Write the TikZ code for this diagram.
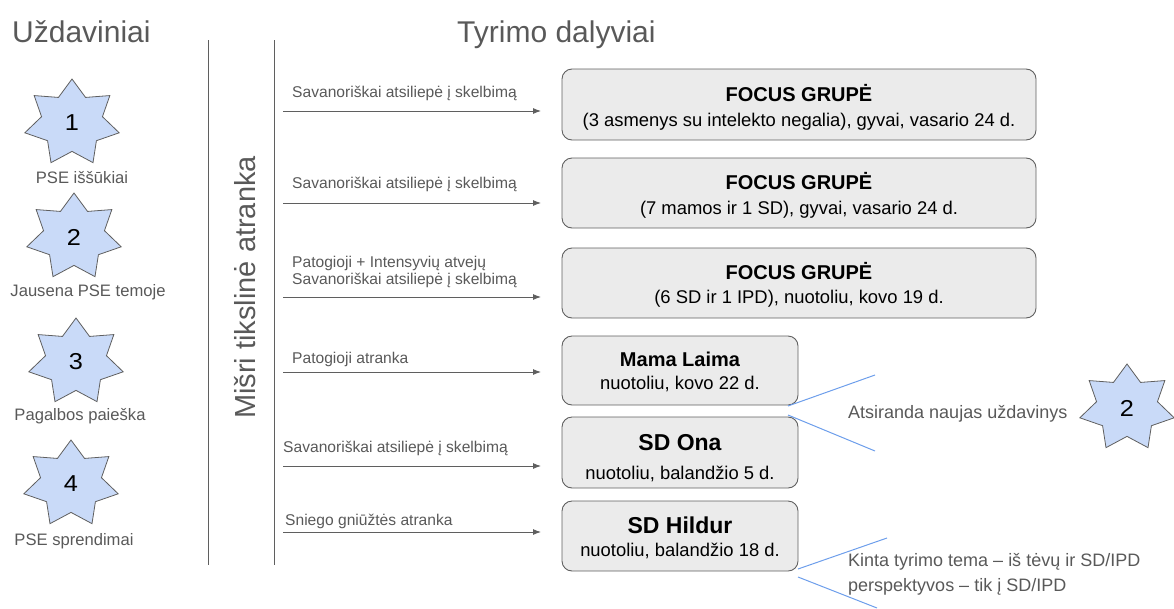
\documentclass[tikz,border=0pt]{standalone}
\usepackage{fontspec}
\setmainfont{Liberation Sans}
\usetikzlibrary{shapes.geometric,arrows.meta}
\definecolor{txtgray}{HTML}{595959}
\definecolor{linegray}{HTML}{5F5F5F}
\definecolor{starblue}{HTML}{C9DAF8}
\definecolor{boxgray}{HTML}{EBEBEB}
\definecolor{callblue}{HTML}{6D9EEB}
\tikzset{
  task/.style={star, star points=7, star point ratio=1.55, minimum size=88pt,
    xscale=1.1, inner sep=0pt, draw=linegray, fill=starblue, line width=0.8pt,
    font=\fontsize{23}{28}\selectfont},
  tasklabel/.style={anchor=base, inner sep=0pt, text=txtgray,
    font=\fontsize{16.6}{20}\selectfont},
  group/.style={draw=linegray, fill=boxgray, rounded corners=10pt,
    line width=0.9pt, align=center, inner sep=0pt, text depth=0pt},
  sel/.style={-{Latex[length=8pt,width=6pt]}, draw=linegray, line width=0.9pt},
  sellabel/.style={anchor=base west, inner sep=0pt, text=txtgray, align=left,
    font=\fontsize{15.6}{16.5}\selectfont},
  note/.style={draw=callblue, line width=1pt},
  notelabel/.style={anchor=base west, inner sep=0pt, text=txtgray, align=left,
    font=\fontsize{18}{25}\selectfont},
  heading/.style={anchor=base west, inner sep=0pt, text=txtgray,
    font=\fontsize{30}{36}\selectfont}
}
\begin{document}
\begin{tikzpicture}[x=1pt, y=-1pt]
  \useasboundingbox (0,0) rectangle (1174,608);
  \node[heading] (uzd) at (12,42) {Uždaviniai};
  \node[heading] (dal) at (457,42) {Tyrimo dalyviai};
  \coordinate (la) at (208,40);
  \coordinate (lb) at (208,565);
  \coordinate (ra) at (274,40);
  \coordinate (rb) at (274,565);
  \draw[linegray, line width=1pt] (la) -- (lb);
  \draw[linegray, line width=1pt] (ra) -- (rb);
  \node[heading, anchor=base, rotate=90, font=\fontsize{29}{34}\selectfont] (mis) at (255,287.5) {Mišri tikslinė atranka};
  \node[task] (t1) at (72,123) {1};
  \node[task] (t2) at (74,237) {2};
  \node[task] (t3) at (76,362) {3};
  \node[task] (t4) at (71,484) {4};
  \node[task] (t5) at (1127,408) {2};
  \node[tasklabel] (t1l) at (82,183) {PSE iššūkiai};
  \node[tasklabel] (t2l) at (88,296) {Jausena PSE temoje};
  \node[tasklabel] (t3l) at (80,420) {Pagalbos paieška};
  \node[tasklabel] (t4l) at (74,545) {PSE sprendimai};
  \node[group, minimum width=474pt, minimum height=71pt, text height=43pt,
    font=\fontsize{18.4}{24.5}\selectfont] (g1) at (799,104.5)
    {{\fontsize{20}{24.5}\selectfont\bfseries FOCUS GRUPĖ}\\(3 asmenys su intelekto negalia), gyvai, vasario 24 d.};
  \node[group, minimum width=474pt, minimum height=70pt, text height=42pt,
    font=\fontsize{18.4}{24.5}\selectfont] (g2) at (799,193)
    {{\fontsize{20}{24.5}\selectfont\bfseries FOCUS GRUPĖ}\\(7 mamos ir 1 SD), gyvai, vasario 24 d.};
  \node[group, minimum width=474pt, minimum height=70pt, text height=41pt,
    font=\fontsize{18.4}{24.5}\selectfont] (g3) at (799,283)
    {{\fontsize{20}{24.5}\selectfont\bfseries FOCUS GRUPĖ}\\(6 SD ir 1 IPD), nuotoliu, kovo 19 d.};
  \node[group, minimum width=236pt, minimum height=69pt, text height=37pt,
    font=\fontsize{18.4}{22.5}\selectfont] (g4) at (680,370.5)
    {{\fontsize{20}{22.5}\selectfont\bfseries Mama Laima}\\nuotoliu, kovo 22 d.};
  \node[group, minimum width=236pt, minimum height=71pt, text height=54pt,
    font=\fontsize{18.4}{29}\selectfont] (g5) at (680,452.5)
    {{\fontsize{23}{29}\selectfont\bfseries SD Ona}\\nuotoliu, balandžio 5 d.};
  \node[group, minimum width=236pt, minimum height=70pt, text height=40pt,
    font=\fontsize{18.4}{22.5}\selectfont] (g6) at (680,536)
    {{\fontsize{23}{22.5}\selectfont\bfseries SD Hildur}\\nuotoliu, balandžio 18 d.};
  \foreach \i/\y in {1/111,2/203,3/297,4/372,5/466,6/532}{
    \coordinate (s\i) at (283,\y);
    \coordinate (e\i) at (541,\y);
    \draw[sel] (s\i) -- (e\i);
  }
  \node[sellabel] (a1) at (292,97) {Savanoriškai atsiliepė į skelbimą};
  \node[sellabel] (a2) at (292,188) {Savanoriškai atsiliepė į skelbimą};
  \node[sellabel] (a3) at (292,284) {Patogioji + Intensyvių atvejų\\Savanoriškai atsiliepė į skelbimą};
  \node[sellabel] (a4) at (292,363) {Patogioji atranka};
  \node[sellabel] (a5) at (283,452) {Savanoriškai atsiliepė į skelbimą};
  \node[sellabel] (a6) at (285,525) {Sniego gniūžtės atranka};
  \coordinate (n1a) at (788,406);
  \coordinate (n1b) at (875,375);
  \coordinate (n2a) at (788,415);
  \coordinate (n2b) at (875,451);
  \coordinate (n3a) at (798,569);
  \coordinate (n3b) at (887,538);
  \coordinate (n4a) at (798,577);
  \coordinate (n4b) at (877,608);
  \draw[note] (n1a) -- (n1b);
  \draw[note] (n2a) -- (n2b);
  \draw[note] (n3a) -- (n3b);
  \draw[note] (n4a) -- (n4b);
  \node[notelabel] (k1) at (848,418) {Atsiranda naujas uždavinys};
  \node[notelabel] (k2) at (848,591) {Kinta tyrimo tema – iš tėvų ir SD/IPD\\perspektyvos – tik į SD/IPD};
\end{tikzpicture}
\end{document}
